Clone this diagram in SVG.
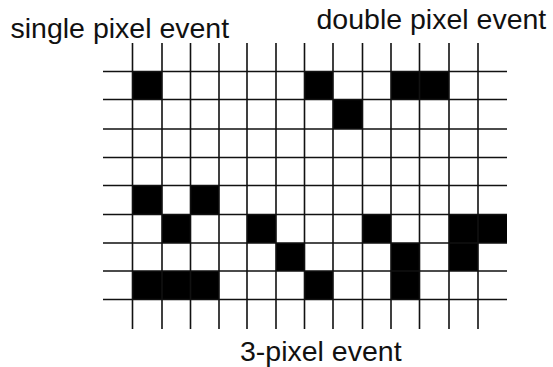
<svg xmlns="http://www.w3.org/2000/svg" width="553" height="367" viewBox="0 0 553 367">
<style>
.px{fill:#000}
.g{stroke:#111;stroke-width:1.6;fill:none}
.t{font-family:"Liberation Sans",Arial,sans-serif;font-size:28.5px;fill:#111}
</style>
<rect width="553" height="367" fill="#fff"/>
<g id="single-event">
<rect class="px" x="132.5" y="71.5" width="29.5" height="28"/>
</g>
<g id="double-events">
<rect class="px" x="304.5" y="71.5" width="28.5" height="28"/>
<rect class="px" x="333" y="99.5" width="29.5" height="29.5"/>
<rect class="px" x="391" y="71.5" width="58" height="28"/>
</g>
<g id="triple-events">
<rect class="px" x="132.5" y="185.5" width="29.5" height="29"/>
<rect class="px" x="190.5" y="185.5" width="28.5" height="29"/>
<rect class="px" x="162" y="214.5" width="28.5" height="28.5"/>
<rect class="px" x="247" y="214.5" width="29" height="28.5"/>
<rect class="px" x="276" y="243" width="28.5" height="28"/>
<rect class="px" x="304.5" y="271" width="28.5" height="28.5"/>
<rect class="px" x="132.5" y="271" width="86.5" height="28.5"/>
<rect class="px" x="362.5" y="214.5" width="28.5" height="28.5"/>
<rect class="px" x="391" y="243" width="28.5" height="56.5"/>
<rect class="px" x="449" y="214.5" width="58" height="28.5"/>
<rect class="px" x="449" y="243" width="29" height="28"/>
</g>
<g id="grid" class="g">
<path d="M132.5 43V329M162 43V329M190.5 43V329M219 43V329M247 43V329M276 43V329M304.5 43V329M333 43V329M362.5 43V329M391 43V329M419.5 43V329M449 43V329M478 43V329"/>
<path d="M103 71.5H507M103 99.5H507M103 129H507M103 157.5H507M103 185.5H507M103 214.5H507M103 243H507M103 271H507M103 299.5H507"/>
</g>
<g id="labels">
<text class="t" x="10.5" y="37.5">single pixel event</text>
<text class="t" x="316.5" y="29">double pixel event</text>
<text class="t" x="240" y="360.5">3-pixel event</text>
</g>
</svg>
